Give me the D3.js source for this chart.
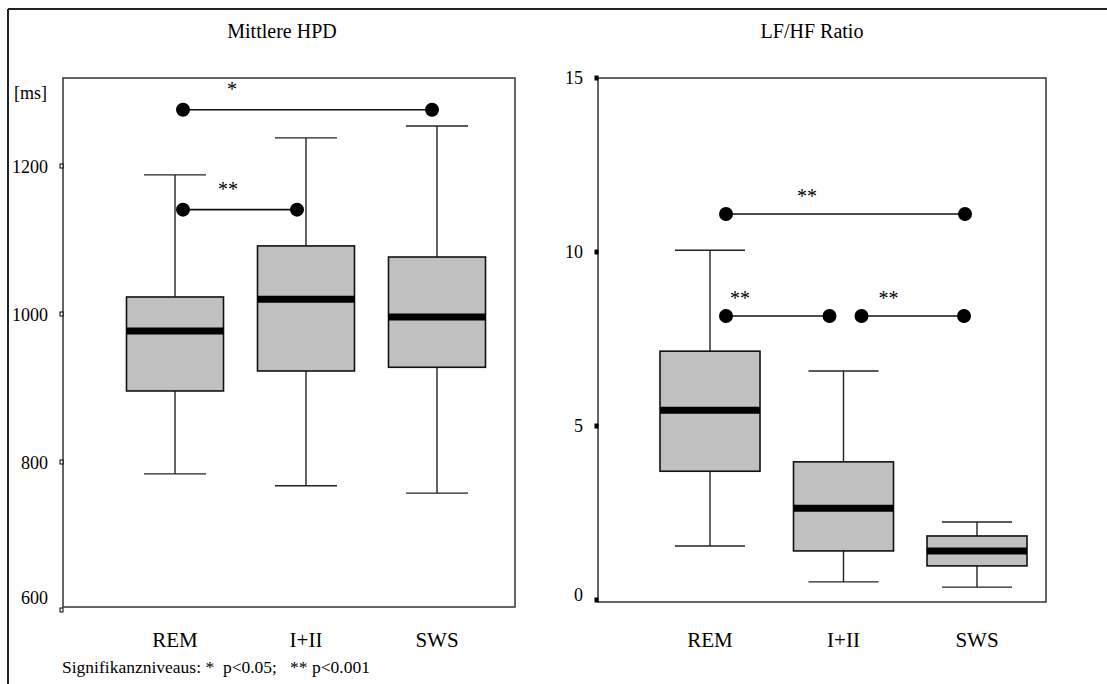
<!DOCTYPE html>
<html><head><meta charset="utf-8">
<script src="https://cdn.jsdelivr.net/npm/d3@7"></script>
<style>body{margin:0;background:#fff}svg{display:block}text{font-family:"Liberation Serif","Times New Roman",serif;fill:#000}</style>
</head><body>
<svg id="c" width="1107" height="684"></svg>
<script>
const categories = ["REM", "I+II", "SWS"];
// [whiskerLow, Q1, median, Q3, whiskerHigh]
const hpdValues = [
  [784, 896, 977, 1023, 1188],
  [768, 923, 1020, 1092, 1238],
  [758, 928, 996, 1077, 1254]
];
const lfhfValues = [
  [1.55, 3.7, 5.45, 7.15, 10.05],
  [0.52, 1.41, 2.64, 3.97, 6.58],
  [0.37, 0.98, 1.41, 1.84, 2.24]
];
const hpdTicks = [600, 800, 1000, 1200];
const lfhfTicks = [0, 5, 10, 15];
// significance brackets: [fromIndex, toIndex, value, label]
const hpdSig = [[0, 2, 1276, "*"], [0, 1, 1141, "**"]];
const lfhfSig = [[0, 2, 11.09, "**"], [0, 1, 8.16, "**"], [1, 2, 8.16, "**"]];
const titles = ["Mittlere HPD", "LF/HF Ratio"];
const unitLabel = "[ms]";
const footnote = "Signifikanzniveaus: *  p<0.05;   ** p<0.001";

const svg = d3.select("#c");

// outer frame (top and left edges)
svg.append("line").attr("x1", 8).attr("x2", 1107).attr("y1", 9).attr("y2", 9).attr("stroke", "#222").attr("stroke-width", 2);
svg.append("line").attr("x1", 8).attr("x2", 8).attr("y1", 9).attr("y2", 684).attr("stroke", "#222").attr("stroke-width", 2);

function panel(cfg) {
  const g = svg.append("g");
  const x = d3.scalePoint().domain(categories).range(cfg.xRange);
  const y = d3.scaleLinear().domain(cfg.yDomain).range(cfg.yRange);
  const [L, R, T, B] = cfg.frame;

  g.append("text").attr("x", cfg.titleX).attr("y", 38).attr("text-anchor", "middle")
    .style("font-size", "20px").text(cfg.title);

  g.append("rect").attr("x", L).attr("y", T).attr("width", R - L).attr("height", B - T)
    .attr("fill", "none").attr("stroke", "#333").attr("stroke-width", 1.5);

  // y ticks
  cfg.ticks.forEach(t => {
    g.append("rect").attr("x", L - 3).attr("y", y(t) - 2).attr("width", 3).attr("height", 4)
      .attr("fill", cfg.tickFill).attr("stroke", "#000").attr("stroke-width", 1);
    g.append("text").attr("x", cfg.labelX).attr("y", y(t) + cfg.labelDy(t)).attr("text-anchor", "end")
      .style("font-size", "18px").text(t);
  });

  const bw = cfg.boxW, cw = cfg.capW;
  cfg.values.forEach((v, i) => {
    const cx = x(categories[i]);
    const [lo, q1, med, q3, hi] = v;
    const wg = g.append("g").attr("stroke", "#222").attr("stroke-width", 1.4);
    wg.append("line").attr("x1", cx).attr("x2", cx).attr("y1", y(hi)).attr("y2", y(q3));
    wg.append("line").attr("x1", cx).attr("x2", cx).attr("y1", y(q1)).attr("y2", y(lo));
    wg.append("line").attr("x1", cx - cw / 2).attr("x2", cx + cw / 2).attr("y1", y(hi)).attr("y2", y(hi));
    wg.append("line").attr("x1", cx - cw / 2).attr("x2", cx + cw / 2).attr("y1", y(lo)).attr("y2", y(lo));
    g.append("rect").attr("x", cx - bw / 2).attr("y", y(q3)).attr("width", bw).attr("height", y(q1) - y(q3))
      .attr("fill", "#c0c0c0").attr("stroke", "#111").attr("stroke-width", 1.6);
    g.append("line").attr("x1", cx - bw / 2).attr("x2", cx + bw / 2).attr("y1", y(med)).attr("y2", y(med))
      .attr("stroke", "#000").attr("stroke-width", 7);
    g.append("text").attr("x", cx).attr("y", 647).attr("text-anchor", "middle")
      .style("font-size", "21px").text(categories[i]);
  });

  cfg.sig.forEach(([a, b, val, lab], k) => {
    const off = cfg.sigOff[k];
    const x1 = x(categories[a]) + off[0], x2 = x(categories[b]) + off[1];
    g.append("line").attr("x1", x1).attr("x2", x2).attr("y1", y(val)).attr("y2", y(val))
      .attr("stroke", "#111").attr("stroke-width", 1.6);
    [x1, x2].forEach(px => g.append("circle").attr("cx", px).attr("cy", y(val)).attr("r", 7).attr("fill", "#000"));
    g.append("text").attr("x", x1 + off[2]).attr("y", y(val) - cfg.starDy).attr("text-anchor", "middle")
      .style("font-size", "20px").text(lab);
  });
  return {x, y};
}

panel({
  title: titles[0], titleX: 282,
  xRange: [175, 437], yDomain: [600, 1200], yRange: [610, 166],
  frame: [63, 515, 78, 607], ticks: hpdTicks, tickFill: "#fff", labelX: 48,
  labelDy: t => t === 600 ? -6 : 7,
  values: hpdValues, boxW: 97, capW: 62, sig: hpdSig,
  sigOff: [[8, -5, 49], [8, -9, 45]], starDy: 14
});
svg.append("text").attr("x", 14).attr("y", 99).style("font-size", "18px").text(unitLabel);

panel({
  title: titles[1], titleX: 812,
  xRange: [710, 977], yDomain: [0, 15], yRange: [600, 78],
  frame: [598, 1046, 78, 602], ticks: lfhfTicks, tickFill: "#000", labelX: 583,
  labelDy: t => t === 0 ? 1 : 6,
  values: lfhfValues, boxW: 100, capW: 70, sig: lfhfSig,
  sigOff: [[16, -12, 81], [16, -14, 14], [18, -13, 27]], starDy: 11
});

svg.append("text").attr("x", 62).attr("y", 673).style("font-size", "17.5px").style("white-space", "pre")
  .attr("xml:space", "preserve").text(footnote);
</script>
</body></html>
